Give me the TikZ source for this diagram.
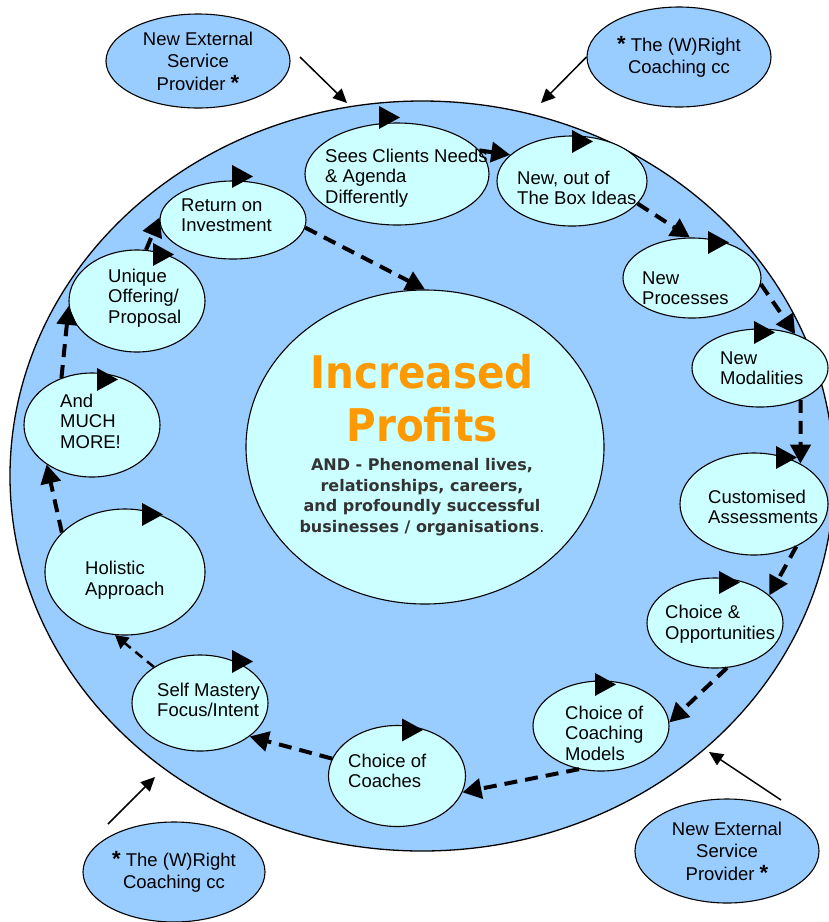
\documentclass[tikz,border=0pt]{standalone}
\usepackage{fontspec}
\setmainfont{Liberation Sans}
\newfontfamily\titlefont[FakeStretch=0.9]{DejaVu Sans}
\newfontfamily\subfont{DejaVu Sans}
\usetikzlibrary{shapes.geometric,arrows.meta,calc}
\definecolor{bigblue}{HTML}{99CCFF}
\definecolor{paleblue}{HTML}{CCFFFF}
\definecolor{orng}{HTML}{FF9900}
\definecolor{subgray}{HTML}{333333}
\tikzset{
  pics/tri/.style={code={\fill[black] (0,-11.5) -- (21,0) -- (0,11.5) -- cycle;}}
}
\begin{document}
\begin{tikzpicture}[x=1pt,y=-1pt,
  bigell/.style={ellipse, draw, line width=1.3pt, fill=bigblue, inner sep=0pt},
  cyanell/.style={ellipse, draw, line width=1.1pt, fill=paleblue, inner sep=0pt},
  outerell/.style={ellipse, draw, line width=1.1pt, fill=bigblue, inner sep=0pt, align=center,
     font=\fontsize{18.5}{22.5}\selectfont},
  lbl/.style={anchor=west, inner sep=0pt, align=left, font=\fontsize{18.5}{20.5}\selectfont},
  flow/.style={line width=4pt, dash pattern=on 13pt off 8pt, -{Triangle[length=19pt,width=20pt]}},
  solidflow/.style={line width=4pt, -{Triangle[length=19pt,width=20pt]}},
  thinflow/.style={line width=2.5pt, dash pattern=on 9pt off 6pt, -{Triangle[length=13pt,width=14pt]}},
  pointer/.style={line width=1.5pt, -{Triangle[length=14pt,width=13pt]}}
]
\useasboundingbox (0,0) rectangle (829,922);

% big ellipse
\node[bigell, minimum width=824pt, minimum height=750pt] (big) at (422,476) {};

% centre
\node[cyanell, minimum width=358pt, minimum height=314pt] (c) at (425,447) {};
\node[inner sep=0pt, align=center, text=orng, font=\titlefont\bfseries\fontsize{45}{53}\selectfont] (title) at (422,398) {Increased\\Profits};
\node[inner sep=0pt, align=center, text=subgray, font=\subfont\bfseries\fontsize{16}{20.5}\selectfont] (sub) at (422,497)
  {AND - Phenomenal lives,\\relationships, careers,\\and profoundly successful\\businesses / organisations{\mdseries.}};

% ring ellipses
\node[cyanell, minimum width=184pt, minimum height=102pt] (e1) at (397,174) {};
\node[cyanell, minimum width=150pt, minimum height=90pt] (e2) at (572,181) {};
\node[cyanell, minimum width=138pt, minimum height=80pt] (e3) at (692,278) {};
\node[cyanell, minimum width=136pt, minimum height=78pt] (e4) at (760,368) {};
\node[cyanell, minimum width=148pt, minimum height=102pt] (e5) at (754,504) {};
\node[cyanell, minimum width=136pt, minimum height=90pt] (e6) at (715,623) {};
\node[cyanell, minimum width=136pt, minimum height=90pt] (e7) at (601,726) {};
\node[cyanell, minimum width=137pt, minimum height=101pt] (e8) at (397,776) {};
\node[cyanell, minimum width=136pt, minimum height=96pt] (e9) at (200,703) {};
\node[cyanell, minimum width=160pt, minimum height=126pt] (e10) at (125,572) {};
\node[cyanell, minimum width=136pt, minimum height=104pt] (e11) at (92,425) {};
\node[cyanell, minimum width=136pt, minimum height=102pt] (e12) at (137,301) {};
\node[cyanell, minimum width=146pt, minimum height=78pt] (e13) at (233,220) {};

% labels
\node[lbl] (t1) at (325,178) {Sees Clients Needs\\\& Agenda\\Differently};
\node[lbl] (t2) at (517,188) {New, out of\\The Box Ideas};
\node[lbl] (t3) at (642,288) {New\\Processes};
\node[lbl] (t4) at (720,368) {New\\Modalities};
\node[lbl] (t5) at (708,507) {Customised\\Assessments};
\node[lbl] (t6) at (665,624) {Choice \&\\Opportunities};
\node[lbl] (t7) at (565,733) {Choice of\\Coaching\\Models};
\node[lbl] (t8) at (348,771) {Choice of\\Coaches};
\node[lbl] (t9) at (157,700) {Self Mastery\\Focus/Intent};
\node[lbl] (t10) at (85,580) {Holistic\\Approach};
\node[lbl] (t11) at (60,421) {And\\MUCH\\MORE!};
\node[lbl] (t12) at (108,298) {Unique\\Offering/\\Proposal};
\node[lbl] (t13) at (181,215) {Return on\\Investment};

% triangle marks on ellipse tops
\pic at ($(e1.north)+(-18,-5)$) {tri};
\pic at ($(e2.north)+(0,6)$) {tri};
\pic at ($(e3.north)+(16,5)$) {tri};
\pic at ($(e4.north)+(-6,4)$) {tri};
\pic at ($(e5.north)+(22,5)$) {tri};
\pic at ($(e6.north)+(4,5)$) {tri};
\pic at ($(e7.north)+(-6,4)$) {tri};
\pic at ($(e8.north)+(5,5)$) {tri};
\pic at ($(e9.north)+(32,7)$) {tri};
\pic at ($(e10.north)+(17,6)$) {tri};
\pic at ($(e11.north)+(5,7)$) {tri};
\pic at ($(e12.north)+(16,5)$) {tri};
\pic at ($(e13.north)+(-1,-4)$) {tri};

% flow connectors
\draw[solidflow] (e1.16) -- (e2.157);
\draw[flow] (e2.-19) -- (e3.93);
\draw[flow] (e3.-5) -- (e4.44);
\draw[flow] (e4.-38) -- (e5.41);
\draw[flow] (e5.-45) -- (e6.27);
\draw[flow] (e6.-75) -- (e7.3);
\draw[flow] (e7.243) -- (e8.-14);
\draw[flow] (e8.165) -- (e9.-34);
\draw[thinflow] (e9.142) -- (e10.261);
\draw[flow] (e10.148) -- (e11.221);
\draw[flow] (e11.123) -- (e12.184);
\draw[flow] (e12.80) -- (e13.178);
\draw[flow] (e13.-6) -- (c.north);

% outer ellipses
\node[outerell, minimum width=184pt, minimum height=94pt] (oA) at (198,61)
  {New External\\Service\\Provider {\bfseries\fontsize{22}{22}\selectfont *}};
\node[outerell, minimum width=184pt, minimum height=100pt] (oB) at (679,57)
  {{\bfseries\fontsize{22}{22}\selectfont *} The (W)Right\\Coaching cc};
\node[outerell, minimum width=182pt, minimum height=100pt] (oC) at (174,872)
  {{\bfseries\fontsize{22}{22}\selectfont *} The (W)Right\\Coaching cc};
\node[outerell, minimum width=184pt, minimum height=104pt] (oD) at (727,851)
  {New External\\Service\\Provider {\bfseries\fontsize{22}{22}\selectfont *}};

\coordinate (sA) at (300,57);
\coordinate (tA) at (347,103);
\coordinate (tB) at (541,103);
\coordinate (sC) at (108,824);
\coordinate (tC) at (155,777);
\coordinate (sD) at (781,800);
\coordinate (tD) at (709,752);

\draw[pointer] (sA) -- (tA);
\draw[pointer] (oB.west) -- (tB);
\draw[pointer] (sC) -- (tC);
\draw[pointer] (sD) -- (tD);
\end{tikzpicture}
\end{document}
